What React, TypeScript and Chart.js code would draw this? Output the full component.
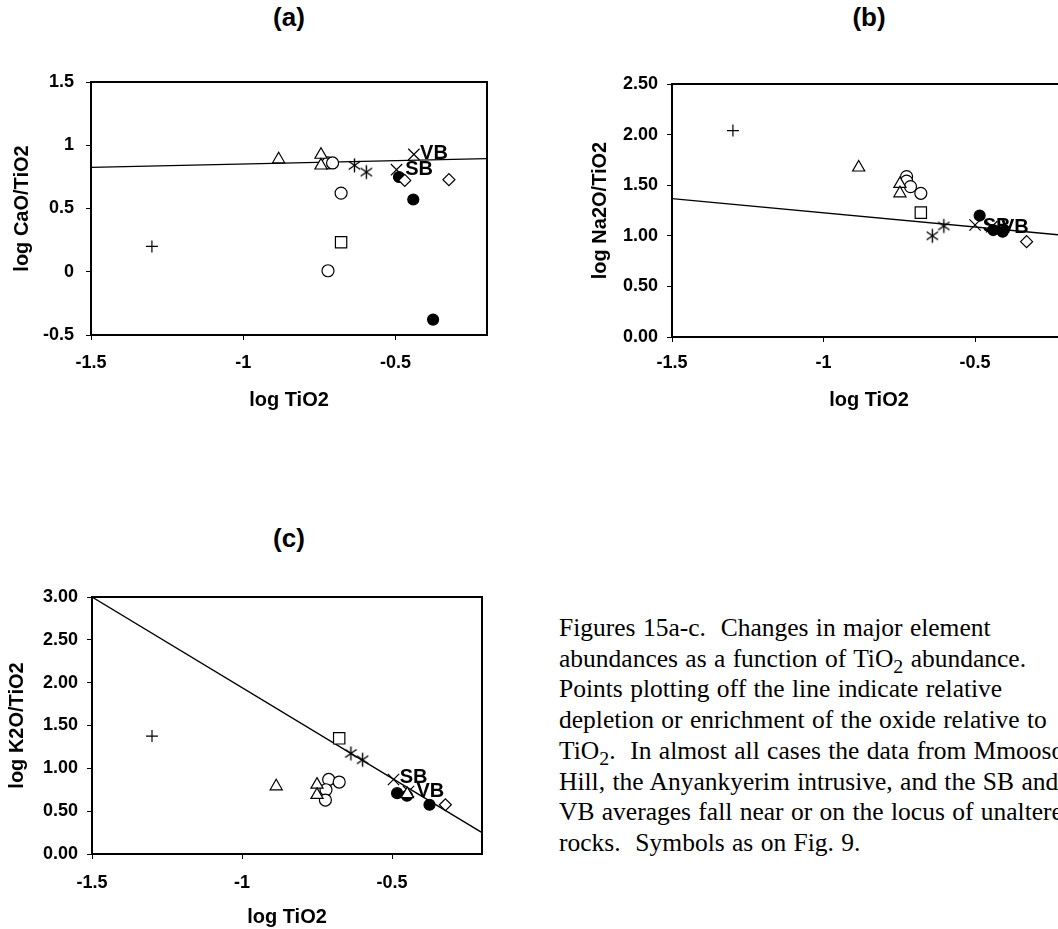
import React, { useEffect, useRef } from "react";
import { Chart, registerables } from "chart.js";

Chart.register(...registerables);

type P = [number, number];

const FONT = "'Liberation Sans', Arial, Helvetica, sans-serif";
const SERIF = "'Liberation Serif', 'Times New Roman', Times, serif";

// ---- shared x axis ----
const xMin = -1.5;
const xMax = -0.2;
const xTickValues = [-1.5, -1, -0.5];
const xTitle = "log TiO2";

// ---- panel (a): log CaO/TiO2 ----
const aYTicks = [-0.5, 0, 0.5, 1, 1.5];
const aPlus: P[] = [[-1.3, 0.2]];
const aTriangles: P[] = [[-0.884, 0.889], [-0.745, 0.925], [-0.745, 0.84]];
const aCircles: P[] = [[-0.722, 0.86], [-0.707, 0.86], [-0.679, 0.622], [-0.722, 0.008]];
const aSquares: P[] = [[-0.679, 0.233]];
const aStars: P[] = [[-0.635, 0.841], [-0.596, 0.788]];
const aCrosses: P[] = [[-0.497, 0.807], [-0.44, 0.928]];
const aFilled: P[] = [[-0.489, 0.749], [-0.442, 0.571], [-0.377, -0.378]];
const aDiamonds: P[] = [[-0.47, 0.722], [-0.325, 0.728]];
const aLine: P[] = [[-1.5, 0.825], [-0.2, 0.895]];
const aLabels: [string, number, number][] = [["SB", -0.423, 0.807], ["VB", -0.374, 0.934]];

// ---- panel (b): log Na2O/TiO2 ----
const bYTicks = [0, 0.5, 1, 1.5, 2, 2.5];
const bPlus: P[] = [[-1.299, 2.04]];
const bTriangles: P[] = [[-0.884, 1.675], [-0.748, 1.513], [-0.748, 1.42]];
const bCircles: P[] = [[-0.726, 1.585], [-0.726, 1.54], [-0.713, 1.486], [-0.679, 1.42]];
const bSquares: P[] = [[-0.679, 1.229]];
const bStars: P[] = [[-0.641, 1.0], [-0.603, 1.097]];
const bCrosses: P[] = [[-0.5, 1.107], [-0.445, 1.09]];
const bFilled: P[] = [[-0.485, 1.2], [-0.44, 1.057], [-0.409, 1.04]];
const bDiamonds: P[] = [[-0.33, 0.942]];
const bLine: P[] = [[-1.5, 1.367], [-0.2, 1.003]];
const bLabels: [string, number, number][] = [["SB", -0.429, 1.09], ["VB", -0.369, 1.084]];

// ---- panel (c): log K2O/TiO2 ----
const cYTicks = [0, 0.5, 1, 1.5, 2, 2.5, 3];
const cPlus: P[] = [[-1.3, 1.377]];
const cTriangles: P[] = [[-0.886, 0.79], [-0.75, 0.81], [-0.75, 0.69], [-0.449, 0.7]];
const cCircles: P[] = [[-0.711, 0.87], [-0.676, 0.84], [-0.72, 0.75], [-0.722, 0.63]];
const cSquares: P[] = [[-0.676, 1.35]];
const cStars: P[] = [[-0.637, 1.174], [-0.598, 1.1]];
const cCrosses: P[] = [[-0.495, 0.87], [-0.445, 0.73]];
const cFilled: P[] = [[-0.483, 0.71], [-0.45, 0.68], [-0.375, 0.575]];
const cDiamonds: P[] = [[-0.322, 0.575]];
const cLine: P[] = [[-1.5, 3.0], [-0.2, 0.25]];
const cLabels: [string, number, number][] = [["SB", -0.428, 0.896], ["VB", -0.372, 0.73]];

const captionLines = [
  "Figures 15a-c.  Changes in major element",
  "abundances as a function of TiO_2 abundance.",
  "Points plotting off the line indicate relative",
  "depletion or enrichment of the oxide relative to",
  "TiO_2.  In almost all cases the data from Mmooso",
  "Hill, the Anyankyerim intrusive, and the SB and",
  "VB averages fall near or on the locus of unaltered",
  "rocks.  Symbols as on Fig. 9.",
];

interface PanelSeries {
  plus: P[]; triangles: P[]; circles: P[]; squares: P[]; stars: P[];
  crosses: P[]; filled: P[]; diamonds: P[]; line: P[];
  labels: [string, number, number][];
  yTicks: number[]; decimals: number; yTitle: string;
}

interface PanelLayout {
  left: number; top: number; width: number; height: number;
  padLeft: number; padTop: number; padRight: number;
  yWidth: number; xHeight: number; yTickPad: number; xTickPad: number;
  yTitlePad: number; xTitlePad: number;
}

const toXY = (pts: P[]) => pts.map(([x, y]) => ({ x, y }));

function makeAsterisk(r: number) {
  const c = document.createElement("canvas");
  const s = 2 * r + 5;
  c.width = s;
  c.height = s;
  const g = c.getContext("2d")!;
  g.strokeStyle = "#000";
  g.lineWidth = 1.4;
  const cx = s / 2, cy = s / 2;
  [90, 35, 145].forEach((deg) => {
    const a = (deg * Math.PI) / 180;
    g.beginPath();
    g.moveTo(cx - Math.cos(a) * r, cy - Math.sin(a) * r);
    g.lineTo(cx + Math.cos(a) * r, cy + Math.sin(a) * r);
    g.stroke();
  });
  return c;
}

const framePlugin = {
  id: "frameAndLabels",
  afterDatasetsDraw(chart: any) {
    const { ctx, chartArea, scales } = chart;
    const labels: [string, number, number][] = chart.options.plugins.frameAndLabels.labels;
    ctx.save();
    ctx.fillStyle = "#000";
    ctx.font = `bold 20px ${FONT}`;
    ctx.textAlign = "center";
    ctx.textBaseline = "middle";
    labels.forEach(([t, x, y]) => {
      ctx.fillText(t, scales.x.getPixelForValue(x), scales.y.getPixelForValue(y));
    });
    ctx.strokeStyle = "#000";
    ctx.lineWidth = 2;
    ctx.strokeRect(chartArea.left, chartArea.top, chartArea.right - chartArea.left, chartArea.bottom - chartArea.top);
    ctx.restore();
  },
};

function buildConfig(s: PanelSeries, L: PanelLayout, asterisk: HTMLCanvasElement): any {
  const pt = (data: P[], style: any, r: number, fill = "#fff") => ({
    type: "scatter",
    data: toXY(data),
    pointStyle: style,
    pointRadius: r,
    pointHoverRadius: r,
    borderColor: "#000",
    backgroundColor: fill,
    pointBorderWidth: 1.2,
    borderWidth: 1.2,
    order: 1,
  });
  const tickFont = { family: FONT, size: 18, weight: "bold" };
  const titleFont = { family: FONT, size: 20, weight: "bold" };
  const grid = { display: true, drawOnChartArea: false, drawTicks: true, tickLength: 5, color: "#000", lineWidth: 1 };
  return {
    type: "scatter",
    data: {
      datasets: [
        pt(s.plus, "cross", 6),
        pt(s.triangles, "triangle", 7),
        pt(s.circles, "circle", 6),
        pt(s.squares, "rect", 8),
        pt(s.stars, asterisk, 7),
        pt(s.crosses, "crossRot", 8),
        pt(s.diamonds, "rectRot", 6),
        pt(s.filled, "circle", 5.5, "#000"),
        {
          type: "line",
          data: toXY(s.line),
          borderColor: "#000",
          borderWidth: 1.3,
          pointRadius: 0,
          fill: false,
          order: 10,
        },
      ],
    },
    options: {
      responsive: false,
      animation: false,
      events: [],
      layout: { padding: { left: L.padLeft, top: L.padTop, right: L.padRight, bottom: 0 } },
      plugins: {
        legend: { display: false },
        tooltip: { enabled: false },
        frameAndLabels: { labels: s.labels },
      },
      scales: {
        x: {
          type: "linear",
          min: xMin,
          max: xMax,
          afterBuildTicks: (sc: any) => { sc.ticks = xTickValues.map((v) => ({ value: v })); },
          afterFit: (sc: any) => { sc.height = L.xHeight; },
          grid,
          border: { display: false },
          ticks: {
            color: "#000", font: tickFont, padding: L.xTickPad, maxRotation: 0, autoSkip: false,
            callback: (v: any) => String(v),
          },
          title: { display: true, text: xTitle, color: "#000", font: titleFont, padding: { top: 0, bottom: L.xTitlePad } },
        },
        y: {
          type: "linear",
          min: s.yTicks[0],
          max: s.yTicks[s.yTicks.length - 1],
          afterBuildTicks: (sc: any) => { sc.ticks = s.yTicks.map((v) => ({ value: v })); },
          afterFit: (sc: any) => { sc.width = L.yWidth; },
          grid,
          border: { display: false },
          ticks: {
            color: "#000", font: tickFont, padding: L.yTickPad, autoSkip: false,
            callback: (v: any) => (s.decimals > 0 ? Number(v).toFixed(s.decimals) : String(v)),
          },
          title: { display: true, text: s.yTitle, color: "#000", font: titleFont, padding: { top: L.yTitlePad, bottom: 0 } },
        },
      },
    },
    plugins: [framePlugin],
  };
}

const panelA: PanelSeries = {
  plus: aPlus, triangles: aTriangles, circles: aCircles, squares: aSquares, stars: aStars,
  crosses: aCrosses, filled: aFilled, diamonds: aDiamonds, line: aLine, labels: aLabels,
  yTicks: aYTicks, decimals: 0, yTitle: "log CaO/TiO2",
};
const panelB: PanelSeries = {
  plus: bPlus, triangles: bTriangles, circles: bCircles, squares: bSquares, stars: bStars,
  crosses: bCrosses, filled: bFilled, diamonds: bDiamonds, line: bLine, labels: bLabels,
  yTicks: bYTicks, decimals: 2, yTitle: "log Na2O/TiO2",
};
const panelC: PanelSeries = {
  plus: cPlus, triangles: cTriangles, circles: cCircles, squares: cSquares, stars: cStars,
  crosses: cCrosses, filled: cFilled, diamonds: cDiamonds, line: cLine, labels: cLabels,
  yTicks: cYTicks, decimals: 2, yTitle: "log K2O/TiO2",
};

const layoutA: PanelLayout = {
  left: 0, top: 0, width: 560, height: 420,
  padLeft: 8, padTop: 82, padRight: 73, yWidth: 83, xHeight: 85,
  yTickPad: 12, xTickPad: 12, yTitlePad: 2, xTitlePad: 8,
};
const layoutB: PanelLayout = {
  left: 570, top: 0, width: 560, height: 420,
  padLeft: 18, padTop: 84, padRight: 64, yWidth: 84, xHeight: 83,
  yTickPad: 9, xTickPad: 10, yTitlePad: 0, xTitlePad: 8,
};
const layoutC: PanelLayout = {
  left: 0, top: 440, width: 540, height: 489,
  padLeft: 5, padTop: 157, padRight: 58, yWidth: 87, xHeight: 75,
  yTickPad: 9, xTickPad: 13, yTitlePad: 0, xTitlePad: 0,
};

function Panel({ series, layout }: { series: PanelSeries; layout: PanelLayout }) {
  const ref = useRef<HTMLCanvasElement>(null);
  useEffect(() => {
    if (!ref.current) return;
    const chart = new Chart(ref.current, buildConfig(series, layout, makeAsterisk(7)));
    return () => chart.destroy();
  }, []);
  return (
    <canvas
      ref={ref}
      width={layout.width}
      height={layout.height}
      style={{ position: "absolute", left: layout.left, top: layout.top, width: layout.width, height: layout.height }}
    />
  );
}

function renderCaptionLine(line: string) {
  const parts = line.split("_2");
  const out: React.ReactNode[] = [];
  parts.forEach((p, i) => {
    out.push(<span key={"t" + i}>{p}</span>);
    if (i < parts.length - 1)
      out.push(
        <span key={"s" + i} style={{ fontSize: "0.78em", position: "relative", top: "0.32em", lineHeight: 0 }}>
          2
        </span>
      );
  });
  return out;
}

const titleStyle = (x: number, y: number): React.CSSProperties => ({
  position: "absolute",
  left: x,
  top: y,
  transform: "translate(-50%, -50%)",
  font: `bold 26px ${FONT}`,
  lineHeight: 1,
  color: "#000",
  whiteSpace: "nowrap",
});

export default function App() {
  return (
    <div
      style={{
        position: "fixed", left: 0, top: 0, width: 1058, height: 929,
        overflow: "hidden", background: "#fff",
      }}
    >
      <div style={titleStyle(289, 17)}>(a)</div>
      <div style={titleStyle(869, 17)}>(b)</div>
      <div style={titleStyle(289, 538)}>(c)</div>
      <Panel series={panelA} layout={layoutA} />
      <Panel series={panelB} layout={layoutB} />
      <Panel series={panelC} layout={layoutC} />
      <div
        style={{
          position: "absolute", left: 559, top: 613,
          font: `25.5px ${SERIF}`, lineHeight: "30.7px", whiteSpace: "pre", color: "#000",
          wordSpacing: "1px",
        }}
      >
        {captionLines.map((l, i) => (
          <div key={i}>{renderCaptionLine(l)}</div>
        ))}
      </div>
    </div>
  );
}
